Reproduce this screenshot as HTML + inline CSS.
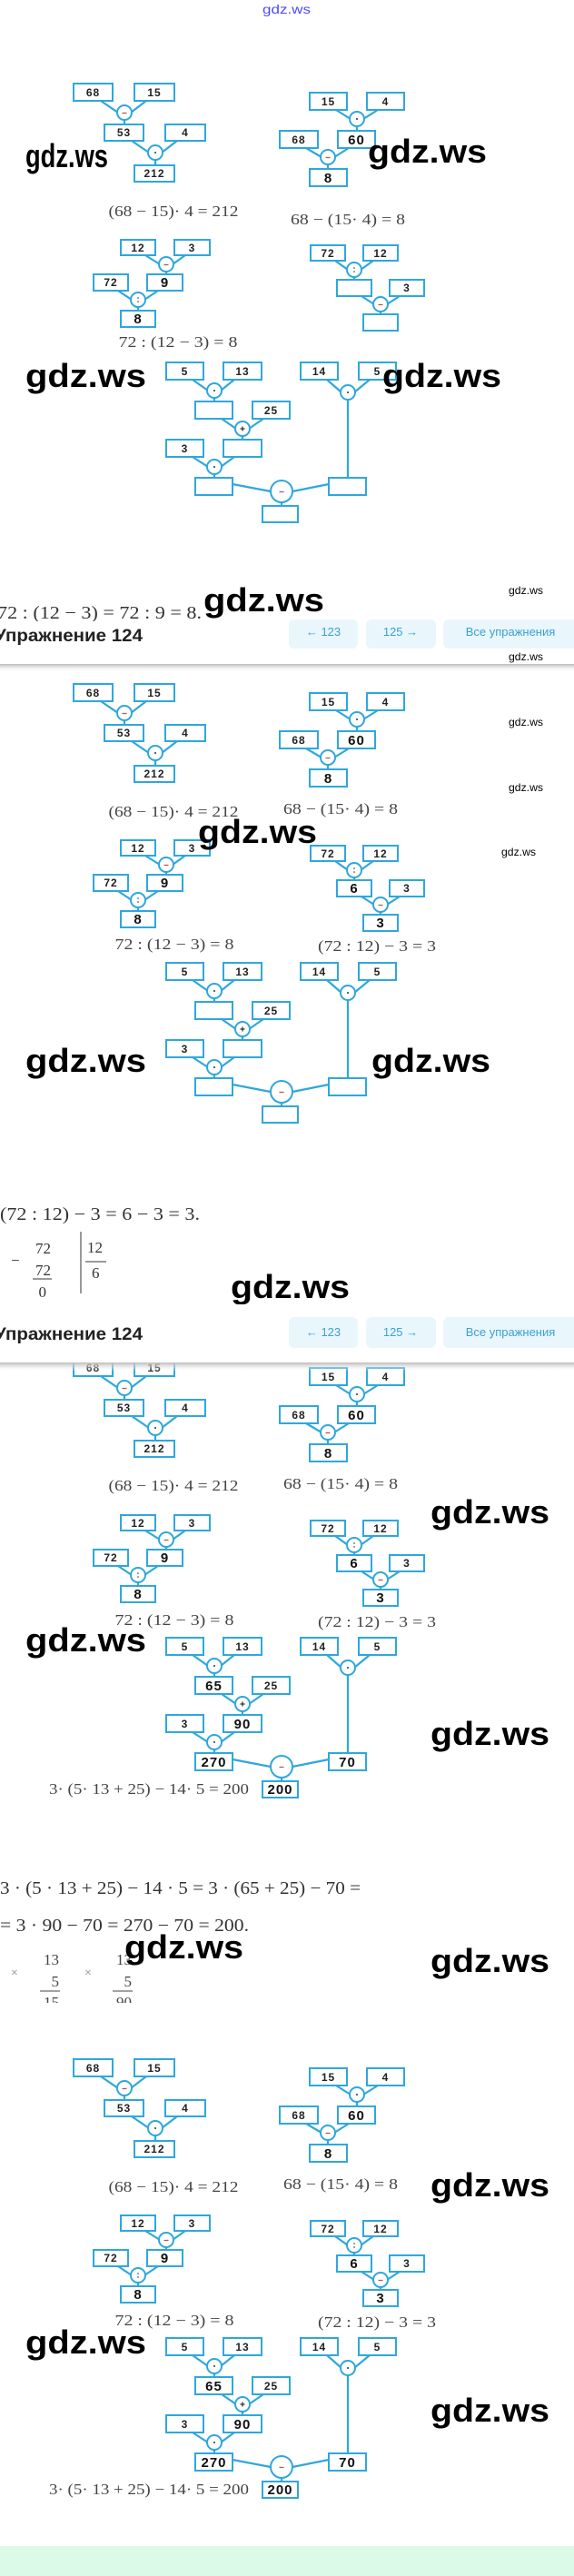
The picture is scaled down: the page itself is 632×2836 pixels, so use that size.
<!DOCTYPE html>
<html><head><meta charset="utf-8"><style>
html,body{margin:0;padding:0;background:#fff;}
svg{display:block}
.s{font-family:"Liberation Sans",sans-serif;font-weight:bold;font-size:12px;fill:#222;text-anchor:middle;letter-spacing:1px}
.b{font-family:"Liberation Sans",sans-serif;font-weight:bold;font-size:15px;fill:#111;text-anchor:middle;letter-spacing:1px}
.eq{font-family:"Liberation Serif",serif;font-size:17px;fill:#444;text-anchor:middle}
.ln{font-family:"Liberation Serif",serif;font-size:20px;fill:#333}
.wm{font-family:"Liberation Sans",sans-serif;font-size:36px;fill:#000;font-weight:bold}
.ws{font-family:"Liberation Sans",sans-serif;font-size:12px;fill:#000}
.hd{font-family:"Liberation Sans","Noto Sans CJK SC",sans-serif;font-weight:bold;font-size:19px;fill:#222}
.bt{font-family:"Liberation Sans","Noto Sans CJK SC",sans-serif;font-size:13px;fill:#3c9fd6;text-anchor:middle}
</style></head><body>
<svg width="632" height="2836" viewBox="0 0 632 2836" xmlns="http://www.w3.org/2000/svg">
<defs>
<linearGradient id="sh" x1="0" y1="0" x2="0" y2="1"><stop offset="0" stop-color="#bbb"/><stop offset="1" stop-color="#fff" stop-opacity="0"/></linearGradient>
<g id="diag" stroke="#2fa7dd" stroke-width="2" fill="none">
<g stroke-width="2.2">
<path d="M111 111L130 124M161 111L144 124M137 132V137"/>
<path d="M145 155L164 168M195 155L178 168M171 176V182"/>
<path d="M370 121L386 131M416 121L400 131M393 139V144"/>
<path d="M337 163L354 173M384 163L368 173M361 181V186"/>
<path d="M160 281L176 291M204 281L190 291M183 299V302"/>
<path d="M130 320L145 330M174 320L159 330M152 338V342"/>
<path d="M369 287L383 297M411 287L397 297M390 305V308"/>
<path d="M398 326L412 335M440 326L426 335M419 343V346"/>
<path d="M212 418L229 430M258 418L243 430M236 438V442"/>
<path d="M244 461L260 472M290 461L274 472M267 480V484"/>
<path d="M212 503L229 514M258 503L243 514M236 522V526"/>
<path d="M256 533L298 541M322 541L362 533M310 553V557"/>
<path d="M360 418L376 432M407 418L390 432M383 440V526"/>
</g>
<g fill="#fff">
<rect x="81" y="92" width="43" height="19"/><rect x="148" y="92" width="44" height="19"/><rect x="115" y="137" width="43" height="18"/><rect x="182" y="137" width="44" height="18"/><rect x="148" y="182" width="44" height="18"/>
<rect x="341" y="102" width="41" height="19"/><rect x="404" y="102" width="41" height="19"/><rect x="308" y="144" width="42" height="19"/><rect x="372" y="144" width="41" height="19"/><rect x="341" y="186" width="41" height="19"/>
<rect x="133" y="264" width="38" height="17"/><rect x="192" y="264" width="39" height="17"/><rect x="103" y="302" width="38" height="18"/><rect x="162" y="302" width="39" height="18"/><rect x="133" y="342" width="38" height="18"/>
<rect x="342" y="270" width="38" height="17"/><rect x="400" y="270" width="38" height="17"/><rect x="371" y="308" width="38" height="18"/><rect x="429" y="308" width="38" height="18"/><rect x="400" y="346" width="38" height="18"/>
<rect x="183" y="399" width="41" height="19"/><rect x="246" y="399" width="42" height="19"/><rect x="215" y="442" width="41" height="19"/><rect x="278" y="442" width="41" height="19"/><rect x="183" y="484" width="41" height="19"/><rect x="246" y="484" width="42" height="19"/><rect x="215" y="526" width="41" height="19"/><rect x="289" y="557" width="39" height="18"/><rect x="331" y="399" width="41" height="19"/><rect x="395" y="399" width="41" height="19"/><rect x="362" y="526" width="41" height="19"/>
<circle cx="137" cy="124" r="8"/><circle cx="171" cy="168" r="8"/><circle cx="393" cy="131" r="8"/><circle cx="361" cy="173" r="8"/>
<circle cx="183" cy="291" r="8"/><circle cx="152" cy="330" r="8"/><circle cx="390" cy="297" r="8"/><circle cx="419" cy="335" r="8"/>
<circle cx="236" cy="430" r="8"/><circle cx="267" cy="472" r="8"/><circle cx="236" cy="514" r="8"/><circle cx="383" cy="432" r="8"/><circle cx="310" cy="541" r="12"/>
</g>
<g stroke="#c0504d" stroke-width="1.3">
<path d="M134.5 124.5h5M358.5 173.5h5M180.5 291.5h5M416.5 335.5h5M307.5 541.5h5"/>
<path d="M264.5 472h5M267 469.5v5" stroke="#333"/>
</g>
<g fill="#333" stroke="none">
<circle cx="171" cy="168" r="1"/><circle cx="393" cy="131" r="1"/><circle cx="236" cy="430" r="1"/><circle cx="236" cy="514" r="1"/><circle cx="383" cy="432" r="1"/>
<circle cx="152" cy="328" r="0.8"/><circle cx="152" cy="332" r="0.8"/><circle cx="390" cy="295" r="0.8"/><circle cx="390" cy="299" r="0.8"/>
</g>
</g>
</defs>

<text x="289" y="15" font-family="Liberation Sans,sans-serif" font-size="14" fill="#4a4aff" textLength="53" lengthAdjust="spacingAndGlyphs">gdz.ws</text>

<g transform="translate(0,0)">
<use href="#diag"/>
<text class="s" x="102.5" y="106">68</text><text class="s" x="170" y="106">15</text><text class="s" x="136.5" y="150">53</text><text class="s" x="204" y="150">4</text><text class="s" x="170" y="195">212</text>
<text class="s" x="361.5" y="116">15</text><text class="s" x="424.5" y="116">4</text><text class="s" x="329" y="158">68</text><text class="b" x="392.5" y="159">60</text><text class="b" x="361.5" y="201">8</text>
<text class="s" x="152" y="277">12</text><text class="s" x="211.5" y="277">3</text><text class="s" x="122" y="315">72</text><text class="b" x="181.5" y="316">9</text><text class="b" x="152" y="356">8</text>
<text class="s" x="361" y="283">72</text><text class="s" x="419" y="283">12</text><text class="s" x="448" y="321">3</text>
<text class="s" x="203.5" y="413">5</text><text class="s" x="267" y="413">13</text><text class="s" x="298.5" y="456">25</text><text class="s" x="203.5" y="498">3</text><text class="s" x="351.5" y="413">14</text><text class="s" x="415.5" y="413">5</text>
<text class="eq" x="191" y="238" textLength="143" lengthAdjust="spacingAndGlyphs">(68 − 15)· 4 = 212</text>
<text class="eq" x="383" y="247" textLength="126" lengthAdjust="spacingAndGlyphs">68 − (15· 4) = 8</text>
<text class="eq" x="196" y="382" textLength="131" lengthAdjust="spacingAndGlyphs">72 : (12 − 3) = 8</text>
</g>
<text class="wm" x="28" y="184" font-size="28" textLength="91" lengthAdjust="spacingAndGlyphs">gdz.ws</text>
<text class="wm" x="405" y="179" textLength="131" lengthAdjust="spacingAndGlyphs">gdz.ws</text>
<text class="wm" x="28" y="426" textLength="133" lengthAdjust="spacingAndGlyphs">gdz.ws</text>
<text class="wm" x="421" y="426" textLength="131" lengthAdjust="spacingAndGlyphs">gdz.ws</text>
<text class="ln" x="-3" y="681" textLength="225" lengthAdjust="spacingAndGlyphs">72 : (12 − 3) = 72 : 9 = 8.</text>
<text class="wm" x="224" y="673" textLength="133" lengthAdjust="spacingAndGlyphs">gdz.ws</text>
<text class="ws" x="560" y="654" textLength="38" lengthAdjust="spacingAndGlyphs">gdz.ws</text>

<rect x="0" y="684" width="632" height="47" fill="#fff"/>
<rect x="0" y="731" width="632" height="9" fill="url(#sh)"/>
<rect x="318" y="682" width="76" height="32" rx="6" fill="#e9f7fc"/>
<rect x="403" y="682" width="77" height="32" rx="6" fill="#e9f7fc"/>
<rect x="488" y="682" width="150" height="32" rx="6" fill="#e9f7fc"/>
<text class="bt" x="356" y="700">← 123</text><text class="bt" x="441" y="700">125 →</text><text class="bt" x="562" y="700">Все упражнения</text>
<text class="hd" x="-6" y="706" textLength="163" lengthAdjust="spacingAndGlyphs">Упражнение 124</text>

<g transform="translate(0,661)">
<use href="#diag"/>
<text class="s" x="102.5" y="106">68</text><text class="s" x="170" y="106">15</text><text class="s" x="136.5" y="150">53</text><text class="s" x="204" y="150">4</text><text class="s" x="170" y="195">212</text>
<text class="s" x="361.5" y="116">15</text><text class="s" x="424.5" y="116">4</text><text class="s" x="329" y="158">68</text><text class="b" x="392.5" y="159">60</text><text class="b" x="361.5" y="201">8</text>
<text class="s" x="152" y="277">12</text><text class="s" x="211.5" y="277">3</text><text class="s" x="122" y="315">72</text><text class="b" x="181.5" y="316">9</text><text class="b" x="152" y="356">8</text>
<text class="s" x="361" y="283">72</text><text class="s" x="419" y="283">12</text><text class="b" x="390" y="322">6</text><text class="s" x="448" y="321">3</text><text class="b" x="419" y="360">3</text>
<text class="s" x="203.5" y="413">5</text><text class="s" x="267" y="413">13</text><text class="s" x="298.5" y="456">25</text><text class="s" x="203.5" y="498">3</text><text class="s" x="351.5" y="413">14</text><text class="s" x="415.5" y="413">5</text>
<text class="eq" x="191" y="238" textLength="143" lengthAdjust="spacingAndGlyphs">(68 − 15)· 4 = 212</text>
<text class="eq" x="375" y="235" textLength="126" lengthAdjust="spacingAndGlyphs">68 − (15· 4) = 8</text>
<text class="eq" x="192" y="384" textLength="131" lengthAdjust="spacingAndGlyphs">72 : (12 − 3) = 8</text>
<text class="eq" x="415" y="386" textLength="130" lengthAdjust="spacingAndGlyphs">(72 : 12) − 3 = 3</text>
</g>
<text class="ws" x="560" y="727" textLength="38" lengthAdjust="spacingAndGlyphs">gdz.ws</text>
<text class="ws" x="560" y="799" textLength="38" lengthAdjust="spacingAndGlyphs">gdz.ws</text>
<text class="ws" x="560" y="871" textLength="38" lengthAdjust="spacingAndGlyphs">gdz.ws</text>
<text class="ws" x="552" y="942" textLength="38" lengthAdjust="spacingAndGlyphs">gdz.ws</text>
<text class="wm" x="218" y="928" textLength="131" lengthAdjust="spacingAndGlyphs">gdz.ws</text>
<text class="wm" x="28" y="1180" textLength="133" lengthAdjust="spacingAndGlyphs">gdz.ws</text>
<text class="wm" x="409" y="1180" textLength="131" lengthAdjust="spacingAndGlyphs">gdz.ws</text>
<text class="ln" x="0" y="1343" textLength="220" lengthAdjust="spacingAndGlyphs">(72 : 12) − 3 = 6 − 3 = 3.</text>
<g font-family="Liberation Serif,serif" font-size="17" fill="#333">
<text x="12" y="1393">−</text>
<text x="56" y="1380" text-anchor="end">72</text>
<text x="56" y="1404" text-anchor="end">72</text>
<line x1="36" y1="1408" x2="57" y2="1408" stroke="#333" stroke-width="1"/>
<text x="51" y="1428" text-anchor="end">0</text>
<line x1="89" y1="1356" x2="89" y2="1424" stroke="#333" stroke-width="1"/>
<text x="96" y="1379">12</text>
<line x1="94" y1="1389" x2="117" y2="1389" stroke="#333" stroke-width="1"/>
<text x="101" y="1407">6</text>
</g>
<text class="wm" x="254" y="1429" textLength="131" lengthAdjust="spacingAndGlyphs">gdz.ws</text>

<g transform="translate(0,1404)">
<use href="#diag"/>
<text class="s" x="102.5" y="106">68</text><text class="s" x="170" y="106">15</text><text class="s" x="136.5" y="150">53</text><text class="s" x="204" y="150">4</text><text class="s" x="170" y="195">212</text>
<text class="s" x="361.5" y="116">15</text><text class="s" x="424.5" y="116">4</text><text class="s" x="329" y="158">68</text><text class="b" x="392.5" y="159">60</text><text class="b" x="361.5" y="201">8</text>
<text class="s" x="152" y="277">12</text><text class="s" x="211.5" y="277">3</text><text class="s" x="122" y="315">72</text><text class="b" x="181.5" y="316">9</text><text class="b" x="152" y="356">8</text>
<text class="s" x="361" y="283">72</text><text class="s" x="419" y="283">12</text><text class="b" x="390" y="322">6</text><text class="s" x="448" y="321">3</text><text class="b" x="419" y="360">3</text>
<text class="s" x="203.5" y="413">5</text><text class="s" x="267" y="413">13</text><text class="b" x="235.5" y="457">65</text><text class="s" x="298.5" y="456">25</text><text class="s" x="203.5" y="498">3</text><text class="b" x="267" y="499">90</text><text class="b" x="235.5" y="541">270</text><text class="b" x="308.5" y="571">200</text><text class="s" x="351.5" y="413">14</text><text class="s" x="415.5" y="413">5</text><text class="b" x="382.5" y="541">70</text>
<text class="eq" x="191" y="237" textLength="143" lengthAdjust="spacingAndGlyphs">(68 − 15)· 4 = 212</text>
<text class="eq" x="375" y="235" textLength="126" lengthAdjust="spacingAndGlyphs">68 − (15· 4) = 8</text>
<text class="eq" x="192" y="385" textLength="131" lengthAdjust="spacingAndGlyphs">72 : (12 − 3) = 8</text>
<text class="eq" x="415" y="387" textLength="130" lengthAdjust="spacingAndGlyphs">(72 : 12) − 3 = 3</text>
<text class="eq" x="164" y="571" textLength="220" lengthAdjust="spacingAndGlyphs">3· (5· 13 + 25) − 14· 5 = 200</text>
</g>
<text class="wm" x="474" y="1677" textLength="131" lengthAdjust="spacingAndGlyphs">gdz.ws</text>
<text class="wm" x="28" y="1818" textLength="133" lengthAdjust="spacingAndGlyphs">gdz.ws</text>
<text class="wm" x="474" y="1921" textLength="131" lengthAdjust="spacingAndGlyphs">gdz.ws</text>

<rect x="0" y="1436" width="632" height="64" fill="#fff"/>
<rect x="0" y="1500" width="632" height="10" fill="url(#sh)"/>
<rect x="318" y="1450" width="76" height="34" rx="6" fill="#e9f7fc"/>
<rect x="403" y="1450" width="77" height="34" rx="6" fill="#e9f7fc"/>
<rect x="488" y="1450" width="150" height="34" rx="6" fill="#e9f7fc"/>
<text class="bt" x="356" y="1471">← 123</text><text class="bt" x="441" y="1471">125 →</text><text class="bt" x="562" y="1471">Все упражнения</text>
<text class="hd" x="-6" y="1475" textLength="163" lengthAdjust="spacingAndGlyphs">Упражнение 124</text>

<text class="ln" x="0" y="2085" textLength="397" lengthAdjust="spacingAndGlyphs">3 · (5 · 13 + 25) − 14 · 5 = 3 · (65 + 25) − 70 =</text>
<text class="ln" x="0" y="2126" textLength="274" lengthAdjust="spacingAndGlyphs">= 3 · 90 − 70 = 270 − 70 = 200.</text>

<clipPath id="mc"><rect x="0" y="2140" width="632" height="65"/></clipPath>
<g clip-path="url(#mc)" font-family="Liberation Serif,serif" font-size="17" fill="#444">
<text x="12" y="2176" font-size="14" fill="#888">×</text>
<text x="65" y="2163" text-anchor="end">13</text>
<text x="65" y="2187" text-anchor="end">5</text>
<line x1="44" y1="2192" x2="66" y2="2192" stroke="#444"/>
<text x="65" y="2210" text-anchor="end">15</text>
<text x="93" y="2176" font-size="14" fill="#888">×</text>
<text x="145" y="2163" text-anchor="end">13</text>
<text x="145" y="2187" text-anchor="end">5</text>
<line x1="124" y1="2192" x2="146" y2="2192" stroke="#444"/>
<text x="145" y="2210" text-anchor="end">90</text>
</g>
<text class="wm" x="137" y="2156" textLength="131" lengthAdjust="spacingAndGlyphs">gdz.ws</text>
<text class="wm" x="474" y="2171" textLength="131" lengthAdjust="spacingAndGlyphs">gdz.ws</text>

<g transform="translate(0,2175)">
<use href="#diag"/>
<text class="s" x="102.5" y="106">68</text><text class="s" x="170" y="106">15</text><text class="s" x="136.5" y="150">53</text><text class="s" x="204" y="150">4</text><text class="s" x="170" y="195">212</text>
<text class="s" x="361.5" y="116">15</text><text class="s" x="424.5" y="116">4</text><text class="s" x="329" y="158">68</text><text class="b" x="392.5" y="159">60</text><text class="b" x="361.5" y="201">8</text>
<text class="s" x="152" y="277">12</text><text class="s" x="211.5" y="277">3</text><text class="s" x="122" y="315">72</text><text class="b" x="181.5" y="316">9</text><text class="b" x="152" y="356">8</text>
<text class="s" x="361" y="283">72</text><text class="s" x="419" y="283">12</text><text class="b" x="390" y="322">6</text><text class="s" x="448" y="321">3</text><text class="b" x="419" y="360">3</text>
<text class="s" x="203.5" y="413">5</text><text class="s" x="267" y="413">13</text><text class="b" x="235.5" y="457">65</text><text class="s" x="298.5" y="456">25</text><text class="s" x="203.5" y="498">3</text><text class="b" x="267" y="499">90</text><text class="b" x="235.5" y="541">270</text><text class="b" x="308.5" y="571">200</text><text class="s" x="351.5" y="413">14</text><text class="s" x="415.5" y="413">5</text><text class="b" x="382.5" y="541">70</text>
<text class="eq" x="191" y="238" textLength="143" lengthAdjust="spacingAndGlyphs">(68 − 15)· 4 = 212</text>
<text class="eq" x="375" y="235" textLength="126" lengthAdjust="spacingAndGlyphs">68 − (15· 4) = 8</text>
<text class="eq" x="192" y="385" textLength="131" lengthAdjust="spacingAndGlyphs">72 : (12 − 3) = 8</text>
<text class="eq" x="415" y="387" textLength="130" lengthAdjust="spacingAndGlyphs">(72 : 12) − 3 = 3</text>
<text class="eq" x="164" y="571" textLength="220" lengthAdjust="spacingAndGlyphs">3· (5· 13 + 25) − 14· 5 = 200</text>
</g>
<text class="wm" x="474" y="2418" textLength="131" lengthAdjust="spacingAndGlyphs">gdz.ws</text>
<text class="wm" x="28" y="2591" textLength="133" lengthAdjust="spacingAndGlyphs">gdz.ws</text>
<text class="wm" x="474" y="2666" textLength="131" lengthAdjust="spacingAndGlyphs">gdz.ws</text>

<rect x="0" y="2803" width="632" height="33" fill="#dbfbe8"/>
</svg>
</body></html>
